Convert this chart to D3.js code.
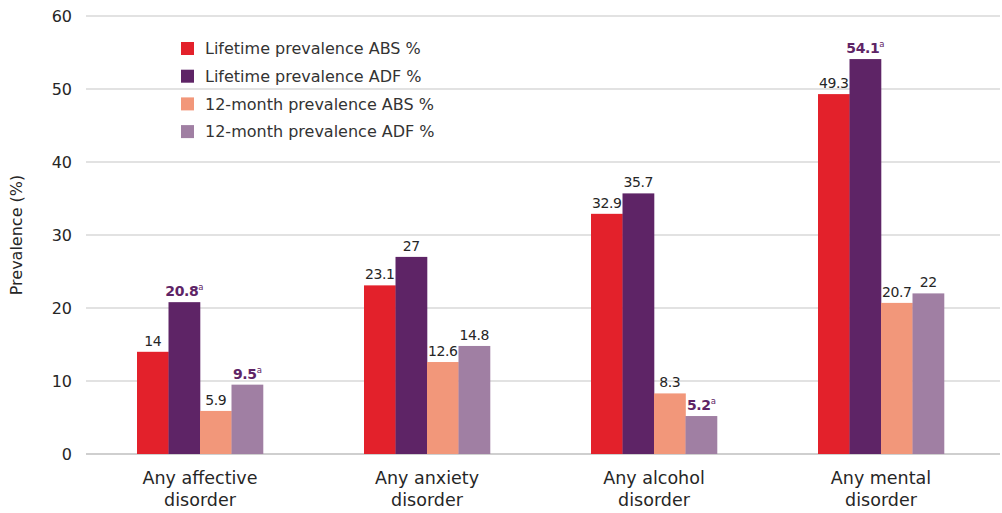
<!DOCTYPE html>
<html><head><meta charset="utf-8">
<script src="https://cdn.jsdelivr.net/npm/d3@7"></script>
<style>body{margin:0;background:#fff}svg{display:block}text{font-family:"DejaVu Sans",sans-serif;fill:#262626}</style>
</head><body><svg id="c" width="1002" height="513"></svg>
<script>
const categories = [["Any affective","disorder"],["Any anxiety","disorder"],["Any alcohol","disorder"],["Any mental","disorder"]];
const seriesNames = ["Lifetime prevalence ABS %","Lifetime prevalence ADF %","12-month prevalence ABS %","12-month prevalence ADF %"];
const lifetimeABS = [14, 23.1, 32.9, 49.3];
const lifetimeADF = [20.8, 27, 35.7, 54.1];
const monthABS = [5.9, 12.6, 8.3, 20.7];
const monthADF = [9.5, 14.8, 5.2, 22];
const significant = [[false,true,false,true],[false,false,false,false],[false,false,false,true],[false,true,false,false]]; // per category, per series
const yTicks = [0,10,20,30,40,50,60];
const colors = ["#E3212B","#5E2466","#F2977A","#A07FA3"];

const series = [lifetimeABS, lifetimeADF, monthABS, monthADF];
const svg = d3.select("#c");
const y = d3.scaleLinear().domain([0,60]).range([454,16]);
const x0 = d3.scaleBand().domain(d3.range(categories.length)).range([86.5,994.5]).paddingInner(0.445).paddingOuter(0.2225);
const x1 = d3.scaleBand().domain(d3.range(series.length)).range([0,x0.bandwidth()]);

// grid
svg.append("g").selectAll("line").data(yTicks).join("line")
  .attr("x1",86).attr("x2",1000).attr("y1",d=>y(d)).attr("y2",d=>y(d))
  .attr("stroke",d=>d===0?"#cfcfcf":"#d9d9d9").attr("stroke-width",d=>d===0?2:1.5);
svg.append("g").selectAll("text").data(yTicks).join("text")
  .attr("x",72).attr("y",d=>y(d)).attr("dy","0.35em").attr("text-anchor","end")
  .attr("font-size",16).text(d=>d);
svg.append("text").attr("transform","translate(22,235) rotate(-90)").attr("text-anchor","middle")
  .attr("font-size",16).text("Prevalence (%)");

// bars
const g = svg.append("g").selectAll("g").data(categories).join("g")
  .attr("transform",(d,i)=>`translate(${x0(i)},0)`);
g.each(function(c,ci){
  const gg = d3.select(this);
  series.forEach((s,si)=>{
    const v = s[ci];
    gg.append("rect").attr("x",x1(si)).attr("width",x1.bandwidth()+0.3)
      .attr("y",y(v)).attr("height",y(0)-y(v)).attr("fill",colors[si]);
    const sig = significant[ci][si];
    const t = gg.append("text").attr("x",x1(si)+x1.bandwidth()/2).attr("y",y(v)-6)
      .attr("text-anchor","middle").attr("font-size",14).attr("letter-spacing",-0.4);
    if(sig){
      t.attr("font-weight","bold").style("fill","#5E2466");
      t.append("tspan").text(v);
      t.append("tspan").attr("font-size",8.5).attr("dy",-6).attr("font-weight","normal").text("a");
    } else t.text(v);
  });
  const lab = gg.append("text").attr("x",x0.bandwidth()/2).attr("y",484).attr("text-anchor","middle").attr("font-size",17.5);
  c.forEach((line,li)=>lab.append("tspan").attr("x",x0.bandwidth()/2).attr("dy",li?22:0).text(line));
});

// legend
const lg = svg.append("g").selectAll("g").data(seriesNames).join("g")
  .attr("transform",(d,i)=>`translate(181,${42+i*27.7})`);
lg.append("rect").attr("width",13).attr("height",13).attr("fill",(d,i)=>colors[i]);
lg.append("text").attr("x",24).attr("y",6.5).attr("dy","0.35em").attr("font-size",16).style("fill","#333").text(d=>d);
</script></body></html>
